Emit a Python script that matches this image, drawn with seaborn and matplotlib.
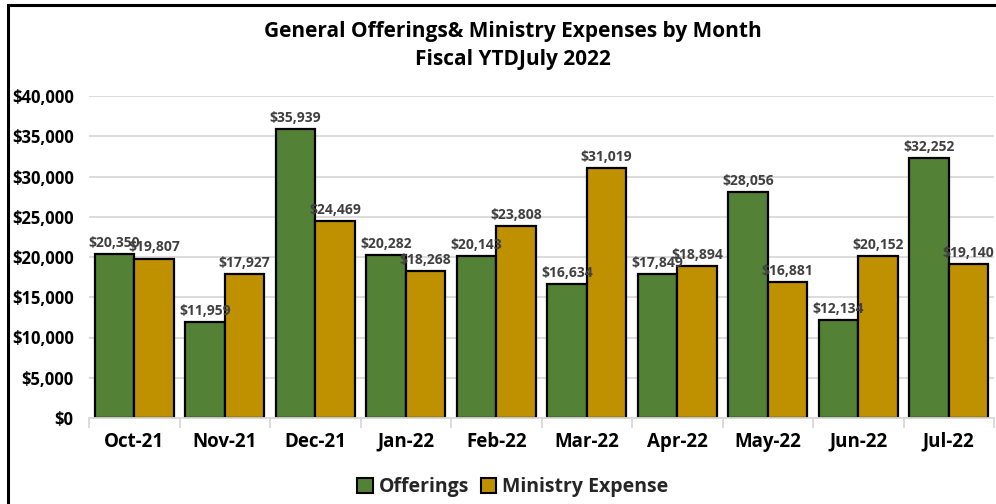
import matplotlib
matplotlib.use("Agg")
import matplotlib.pyplot as plt
import seaborn as sns
import pandas as pd
from matplotlib.patches import Rectangle
from matplotlib.ticker import FuncFormatter

months = ["Oct-21", "Nov-21", "Dec-21", "Jan-22", "Feb-22", "Mar-22", "Apr-22", "May-22", "Jun-22", "Jul-22"]
offerings = [20350, 11959, 35939, 20282, 20143, 16634, 17849, 28056, 12134, 32252]
ministry = [19807, 17927, 24469, 18268, 23808, 31019, 18894, 16881, 20152, 19140]
series = ["Offerings", "Ministry Expense"]
colors = ["#538135", "#BF9000"]

df = pd.DataFrame({
    "Month": months * 2,
    "Value": offerings + ministry,
    "Series": [series[0]] * len(months) + [series[1]] * len(months),
})

sns.set_theme(style="white")
plt.rcParams["font.family"] = ["Open Sans", "DejaVu Sans"]

fig = plt.figure(figsize=(9.96, 5.04), dpi=100)
ax = fig.add_axes([89 / 996, 1 - 418 / 504, (994 - 89) / 996, (418 - 96) / 504])

sns.barplot(data=df, x="Month", y="Value", hue="Series", palette=colors, saturation=1,
            width=0.87, edgecolor="black", linewidth=1.6, ax=ax, legend=True)

ax.set_ylim(0, 40000)
ax.set_yticks(range(0, 40001, 5000))
ax.yaxis.set_major_formatter(FuncFormatter(lambda v, p: f"${v:,.0f}"))
ax.grid(axis="y", color="#d9d9d9", linewidth=1.3)
ax.set_axisbelow(True)
for s in ["top", "right", "left"]:
    ax.spines[s].set_visible(False)
ax.spines["bottom"].set_color("#d9d9d9")
ax.spines["bottom"].set_linewidth(1.3)
ax.set_xlim(-0.5, len(months) - 0.5)
ax.set_xlabel("")
ax.set_ylabel("")
ax.tick_params(axis="y", length=0, pad=11, labelsize=12)
ax.tick_params(axis="x", length=0, pad=10, labelsize=13.5)
for lab in ax.get_yticklabels() + ax.get_xticklabels():
    lab.set_fontweight("bold")
    lab.set_color("black")
# category boundary ticks
ax.set_xticks([i - 0.5 for i in range(len(months) + 1)], minor=True)
ax.tick_params(axis="x", which="minor", bottom=True, length=7, color="#d9d9d9", width=1.3, direction="out")

for cont in ax.containers:
    ax.bar_label(cont, labels=[f"${v:,.0f}" for v in cont.datavalues], padding=3,
                 fontsize=10, fontweight="bold", color="#404040")

leg = ax.legend(loc="upper center", bbox_to_anchor=((513 - 89) / 905, -0.13), ncol=2, frameon=False,
                handlelength=0.8, handleheight=0.8, handletextpad=0.3,
                columnspacing=0.6, prop={"weight": "bold", "size": 14})
for h in leg.legend_handles:
    h.set_edgecolor("black")
    h.set_linewidth(1.5)

fig.text(0.515, 1 - 32 / 504, "General Offerings& Ministry Expenses by Month", ha="center", va="center",
         fontsize=15, fontweight="bold", color="black")
fig.text(0.515, 1 - 60 / 504, "Fiscal YTDJuly 2022", ha="center", va="center",
         fontsize=15, fontweight="bold", color="black")

# outer frame (left and top edges visible)
fig.patches.append(Rectangle((8 / 996, -0.05), 1.1, 1 - 5 / 504 + 0.05, transform=fig.transFigure,
                             fill=False, edgecolor="black", linewidth=2.2))

fig.savefig("out.png", dpi=100)
